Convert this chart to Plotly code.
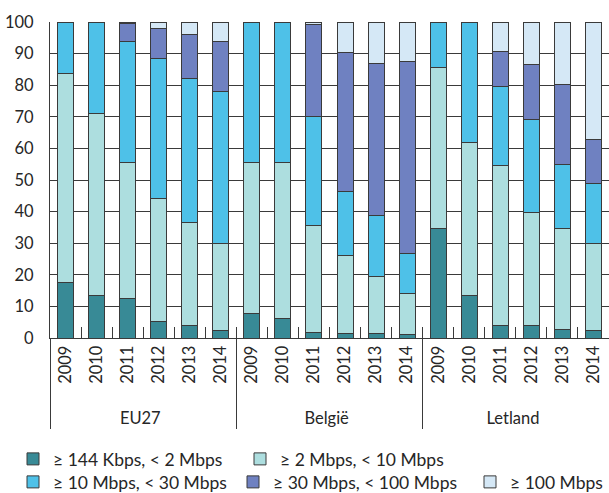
import plotly.graph_objects as go

groups = ["EU27"] * 6 + ["België"] * 6 + ["Letland"] * 6
years = ["2009", "2010", "2011", "2012", "2013", "2014"] * 3

series_names = [
    "≥ 144 Kbps, < 2 Mbps",
    "≥ 2 Mbps, < 10 Mbps",
    "≥ 10 Mbps, < 30 Mbps",
    "≥ 30 Mbps, < 100 Mbps",
    "≥ 100 Mbps",
]

s_144k_2m = [17.7, 13.6, 12.5, 5.1, 4.0, 2.4,
             7.7, 6.1, 1.7, 1.4, 1.4, 1.1,
             34.5, 13.4, 4.0, 4.0, 2.8, 2.4]
s_2m_10m = [66.0, 57.4, 42.9, 38.9, 32.5, 27.6,
            47.7, 49.3, 33.9, 24.6, 18.0, 13.1,
            51.1, 48.4, 50.7, 35.8, 31.7, 27.5]
s_10m_30m = [16.3, 29.0, 38.3, 44.3, 45.5, 48.0,
             44.6, 44.6, 34.4, 20.5, 19.4, 12.4,
             14.4, 38.2, 25.0, 29.4, 20.4, 19.1]
s_30m_100m = [0, 0, 5.8, 9.6, 14.1, 15.8,
              0, 0, 29.2, 43.8, 48.1, 60.9,
              0, 0, 11.1, 17.3, 25.3, 13.8]
s_100m = [0, 0, 0.5, 2.1, 3.9, 6.2,
          0, 0, 0.8, 9.7, 13.1, 12.5,
          0, 0, 9.2, 13.5, 19.8, 37.2]

y_ticks = [0, 10, 20, 30, 40, 50, 60, 70, 80, 90, 100]

colors = ["#388A96", "#ADDEDF", "#4EC1E8", "#6F81C1", "#D5E8F6"]
legend_ids = ["legend", "legend", "legend2", "legend2", "legend2"]
legend_widths = [182, None, 175, 192, None]

FONT = "Lato"
FS = 16.5
LFS = 17.5
DARK = "#3A3A3A"
TXT = "#262626"

# small non-breaking lead gives the year labels the same footprint as in the source
year_labels = ["\u00a0\u00a0" + y for y in years]

fig = go.Figure()
for name, vals, col, lg, lw in zip(series_names,
                                   [s_144k_2m, s_2m_10m, s_10m_30m, s_30m_100m, s_100m],
                                   colors, legend_ids, legend_widths):
    fig.add_trace(go.Bar(
        x=[groups, year_labels], y=vals, name=name, legend=lg, legendwidth=lw,
        marker=dict(color=col, line=dict(color=DARK, width=1)),
    ))

# empty carrier trace for the overlay axis that draws the small inside ticks
fig.add_trace(go.Bar(
    x=[groups, year_labels], y=[None] * len(years), xaxis="x2",
    showlegend=False, hoverinfo="skip",
))

# plot area: left 50, width 559, top 22, bottom 338 (height 316)
leg_x = (13 - 50) / 559
row1_y = (338 - 459) / 316
row2_y = (338 - 482) / 316
xr = [-0.5, len(years) - 0.5]

fig.update_layout(
    width=609, height=493,
    barmode="stack", bargap=0.485,
    plot_bgcolor="white", paper_bgcolor="white",
    margin=dict(l=50, r=0, t=22, b=155, autoexpand=False),
    font=dict(family=FONT, size=FS, color=TXT),
    xaxis=dict(
        type="multicategory", range=xr,
        showline=True, linecolor=DARK, linewidth=1,
        ticks="outside", ticklen=21, tickcolor="rgba(0,0,0,0)",
        tickangle=-90,
        showdividers=True, dividercolor=DARK, dividerwidth=1,
        tickfont=dict(family=FONT, size=FS, color=TXT),
        automargin=False,
    ),
    xaxis2=dict(
        type="multicategory", range=xr, overlaying="x",
        showline=False, showgrid=False, showdividers=False,
        ticks="inside", ticklen=11, tickcolor=DARK, tickwidth=1,
        showticklabels=False, automargin=False,
    ),
    yaxis=dict(
        range=[0, 100], tickvals=y_ticks,
        showgrid=True, gridcolor=DARK, gridwidth=1,
        showline=True, linecolor=DARK, linewidth=1,
        ticks="", ticklabelstandoff=12,
        tickfont=dict(family=FONT, size=FS, color=TXT),
        zeroline=False, automargin=False,
    ),
    legend=dict(
        orientation="h", xref="paper", yref="paper",
        x=leg_x, y=row1_y, xanchor="left", yanchor="middle",
        font=dict(family=FONT, size=LFS, color=TXT),
        traceorder="normal", bgcolor="rgba(0,0,0,0)",
    ),
    legend2=dict(
        orientation="h", xref="paper", yref="paper",
        x=leg_x, y=row2_y, xanchor="left", yanchor="middle",
        font=dict(family=FONT, size=LFS, color=TXT),
        traceorder="normal", bgcolor="rgba(0,0,0,0)",
    ),
)

fig.write_html("out.html", config={"displayModeBar": False},
               post_script="document.body.style.margin='0';")
